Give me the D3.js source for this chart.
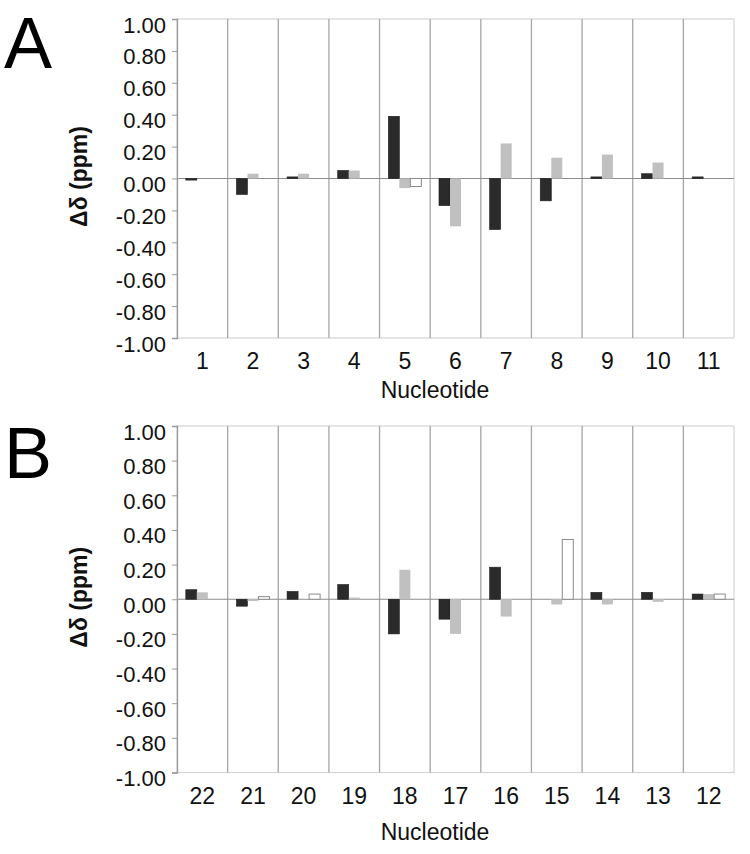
<!DOCTYPE html>
<html>
<head>
<meta charset="utf-8">
<script src="https://cdn.jsdelivr.net/npm/d3@7/dist/d3.min.js"></script>
<style>
  html, body { margin: 0; padding: 0; background: #fff; }
  svg { display: block; font-family: "Liberation Sans", Arial, Helvetica, sans-serif; }
</style>
</head>
<body>
<svg id="chart" width="750" height="854"></svg>
<script>
// ---- data ----
const nucleotidesA = ["1", "2", "3", "4", "5", "6", "7", "8", "9", "10", "11"];
const blackA = [-0.01, -0.10, 0.01, 0.05, 0.39, -0.17, -0.32, -0.14, 0.01, 0.03, 0.01];
const grayA  = [null, 0.03, 0.03, 0.05, -0.06, -0.30, 0.22, 0.13, 0.15, 0.10, null];
const whiteA = [null, null, null, null, -0.05, null, null, null, null, null, null];

const nucleotidesB = ["22", "21", "20", "19", "18", "17", "16", "15", "14", "13", "12"];
const blackB = [0.055, -0.04, 0.045, 0.085, -0.20, -0.115, 0.185, null, 0.04, 0.04, 0.03];
const grayB  = [0.04, -0.01, null, 0.01, 0.17, -0.20, -0.10, -0.03, -0.03, -0.015, 0.03];
const whiteB = [null, 0.015, 0.03, null, null, null, null, 0.345, null, null, 0.03];

const yTickValues = [1.0, 0.8, 0.6, 0.4, 0.2, 0.0, -0.2, -0.4, -0.6, -0.8, -1.0];
const yTitle = "Δδ (ppm)";
const xTitle = "Nucleotide";

// ---- drawing ----
const svg = d3.select("#chart");
const left = 177, right = 734;
const seriesStyle = [
  { fill: "#2b2b2b", stroke: "#1c1c1c", sw: 0.6 },
  { fill: "#c0c0c0", stroke: "none", sw: 0 },
  { fill: "#ffffff", stroke: "#8a8a8a", sw: 1 }
];

function drawPanel(cfg) {
  const g = svg.append("g");
  const x = d3.scaleBand().domain(cfg.cats).range([left, right]).padding(0);
  const xs = d3.scaleBand().domain([0, 1, 2]).range([0, x.bandwidth()])
    .paddingInner(0).paddingOuter(0.8);
  const y = d3.scaleLinear().domain([-1, 1]).range([cfg.yBot, cfg.yTop]);

  // frame
  g.append("rect")
    .attr("x", left).attr("y", cfg.yTop)
    .attr("width", right - left).attr("height", cfg.yBot - cfg.yTop)
    .attr("fill", "none").attr("stroke", "#d4d4d4").attr("stroke-width", 1.2);

  // category separators
  g.selectAll("line.sep").data(cfg.cats.slice(1)).enter().append("line")
    .attr("class", "sep")
    .attr("x1", d => x(d)).attr("x2", d => x(d))
    .attr("y1", cfg.yTop).attr("y2", cfg.yBot)
    .attr("stroke", "#a6a6a6").attr("stroke-width", 1.3);

  // zero line
  g.append("line")
    .attr("x1", left).attr("x2", right)
    .attr("y1", y(0)).attr("y2", y(0))
    .attr("stroke", "#8c8c8c").attr("stroke-width", 1);

  // bars
  cfg.series.forEach((vals, s) => {
    const st = seriesStyle[s];
    const data = vals.map((v, i) => ({ v, c: cfg.cats[i] })).filter(d => d.v !== null);
    g.selectAll(null).data(data).enter().append("rect")
      .attr("x", d => x(d.c) + xs(s))
      .attr("width", xs.bandwidth())
      .attr("y", d => y(Math.max(0, d.v)))
      .attr("height", d => Math.abs(y(d.v) - y(0)))
      .attr("fill", st.fill)
      .attr("stroke", st.stroke)
      .attr("stroke-width", st.sw);
  });

  // y axis
  const yAxis = d3.axisLeft(y).tickValues(yTickValues).tickSize(5).tickPadding(6)
    .tickFormat(d => d.toFixed(2));
  const ya = g.append("g").attr("transform", `translate(${left},0)`).call(yAxis);
  ya.select(".domain").attr("stroke", "#9a9a9a").attr("stroke-width", 1.3);
  ya.selectAll(".tick line").attr("stroke", "#9a9a9a");
  ya.selectAll(".tick text")
    .attr("font-size", 22).attr("fill", "#111")
    .attr("font-family", "'Liberation Sans', Arial, sans-serif")
    .attr("dy", 13).attr("x", -11);

  // x labels
  const xa = d3.axisBottom(x).tickSize(0).tickPadding(0);
  const xg = g.append("g").attr("transform", `translate(0,${cfg.yBot})`).call(xa);
  xg.select(".domain").remove();
  xg.selectAll(".tick text")
    .attr("font-size", 23).attr("fill", "#111")
    .attr("font-family", "'Liberation Sans', Arial, sans-serif")
    .attr("dy", 0).attr("y", 31);

  // axis titles
  g.append("text")
    .attr("x", 435).attr("y", cfg.xTitleY)
    .attr("text-anchor", "middle").attr("font-size", 23).attr("fill", "#111")
    .text(xTitle);
  g.append("text")
    .attr("transform", `translate(87,${(cfg.yTop + cfg.yBot) / 2 - 2}) rotate(-90)`)
    .attr("text-anchor", "middle").attr("font-size", 23).attr("font-weight", "bold")
    .attr("fill", "#111")
    .text(yTitle);

  // panel letter
  g.append("text")
    .attr("x", 4).attr("y", cfg.letterY)
    .attr("font-size", 72).attr("fill", "#000")
    .text(cfg.letter);
}

drawPanel({ cats: nucleotidesA, series: [blackA, grayA, whiteA],
  yTop: 19, yBot: 338, xTitleY: 398, letter: "A", letterY: 68 });
drawPanel({ cats: nucleotidesB, series: [blackB, grayB, whiteB],
  yTop: 426, yBot: 772.5, xTitleY: 840, letter: "B", letterY: 478 });
</script>
</body>
</html>
